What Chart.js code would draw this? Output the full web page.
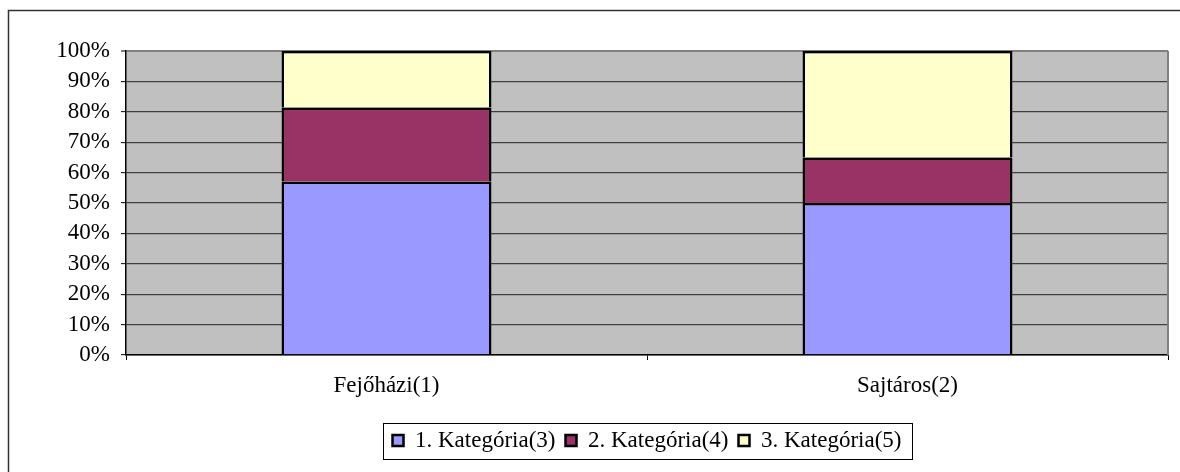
<!DOCTYPE html>
<html>
<head>
<meta charset="utf-8">
<script src="https://cdn.jsdelivr.net/npm/chart.js@4/dist/chart.umd.min.js"></script>
<style>
  html, body { margin: 0; padding: 0; background: #fff; }
  #wrap { width: 1180px; height: 472px; position: relative; }
</style>
</head>
<body>
<div id="wrap"><canvas id="myChart" width="1180" height="472"></canvas></div>
<script>
var categories = ["Fejőházi(1)", "Sajtáros(2)"];
var seriesNames = ["1. Kategória(3)", "2. Kategória(4)", "3. Kategória(5)"];
var kat1 = [57.1, 50.0];
var kat2 = [24.3, 15.0];
var kat3 = [18.6, 35.0];
var yTicks = [0, 10, 20, 30, 40, 50, 60, 70, 80, 90, 100];

var serif = "'Liberation Serif', 'Times New Roman', serif";

// plot background, right border, outer frame and the legend box
var frame = {
    id: 'frame',
    afterLayout: function (chart) {
        // legend sits centred under the plot area, not the whole canvas
        var lg = chart.legend, a = chart.chartArea;
        var shift = (a.left + a.right) / 2 - (lg.left + lg.right) / 2;
        lg.left += shift;
        lg.right += shift;
    },
    beforeDraw: function (chart) {
        var c = chart.ctx, a = chart.chartArea;
        c.save();
        c.fillStyle = '#fff';
        c.fillRect(0, 0, chart.width, chart.height);
        c.fillStyle = '#C0C0C0';
        c.fillRect(a.left, a.top, a.right - a.left, a.bottom - a.top);
        c.strokeStyle = '#333';
        c.lineWidth = 1.5;
        c.beginPath();
        c.moveTo(8.5, chart.height + 2);
        c.lineTo(8.5, 10.5);
        c.lineTo(chart.width + 2, 10.5);
        c.stroke();
        c.restore();
    },
    beforeDatasetsDraw: function (chart) {
        var c = chart.ctx, a = chart.chartArea;
        c.save();
        c.strokeStyle = '#808080';
        c.lineWidth = 2;
        c.beginPath();
        c.moveTo(a.right, a.top);
        c.lineTo(a.right, a.bottom);
        c.stroke();
        c.restore();
    },
    afterDraw: function (chart) {
        var lg = chart.legend;
        if (!lg || !lg.legendHitBoxes || !lg.legendHitBoxes.length) return;
        var hb = lg.legendHitBoxes;
        var l = hb[0].left, r = hb[hb.length - 1].left + hb[hb.length - 1].width;
        var mid = hb[0].top + hb[0].height / 2;
        var c = chart.ctx;
        c.save();
        c.strokeStyle = '#000';
        c.lineWidth = 1;
        c.strokeRect(Math.round(l - 10) + 0.5, Math.round(mid - 18) + 0.5, Math.round(r - l + 20), 36);
        c.restore();
    }
};

var ctx = document.getElementById("myChart");
var myChart = new Chart(ctx, {
    type: 'bar',
    data: {
        labels: categories,
        datasets: [{
            label: seriesNames[0],
            data: kat1,
            backgroundColor: '#9999FF',
            borderColor: '#000',
            borderWidth: 2.5
        }, {
            label: seriesNames[1],
            data: kat2,
            backgroundColor: '#993366',
            borderColor: '#000',
            borderWidth: 2.5
        }, {
            label: seriesNames[2],
            data: kat3,
            backgroundColor: '#FFFFCC',
            borderColor: '#000',
            borderWidth: 2.5
        }]
    },
    options: {
        responsive: false,
        animation: false,
        layout: {
            padding: { left: 0, right: 12, top: 51, bottom: 10 }
        },
        datasets: {
            bar: { barPercentage: 0.403, categoryPercentage: 1 }
        },
        scales: {
            x: {
                stacked: true,
                afterFit: function (s) { s.height = 64; },
                grid: {
                    drawOnChartArea: false,
                    drawTicks: true,
                    tickLength: 5,
                    tickColor: '#000',
                    offset: true
                },
                border: { color: '#000', width: 1.5 },
                ticks: {
                    color: '#000',
                    padding: 12,
                    font: { family: serif, size: 23 }
                }
            },
            y: {
                stacked: true,
                min: 0,
                max: 100,
                afterFit: function (s) { s.width = 126; },
                afterBuildTicks: function (s) {
                    s.ticks = yTicks.map(function (v) { return { value: v }; });
                },
                grid: {
                    color: function (c) {
                        return c.tick && c.tick.value === 100 ? '#808080' : '#404040';
                    },
                    lineWidth: function (c) {
                        return c.tick && c.tick.value === 100 ? 2 : 1.3;
                    },
                    tickLength: 5,
                    tickColor: '#000',
                    tickWidth: 1
                },
                border: { color: '#000', width: 1.5 },
                ticks: {
                    color: '#000',
                    padding: 11,
                    autoSkip: false,
                    font: { family: serif, size: 23 },
                    callback: function (v) { return v + '%'; }
                }
            }
        },
        plugins: {
            title: { display: false },
            tooltip: { enabled: false },
            legend: {
                display: true,
                position: 'bottom',
                labels: {
                    color: '#000',
                    boxWidth: 11,
                    boxHeight: 11,
                    padding: 10,
                    font: { family: serif, size: 23 }
                }
            }
        }
    },
    plugins: [frame]
});
</script>
</body>
</html>
